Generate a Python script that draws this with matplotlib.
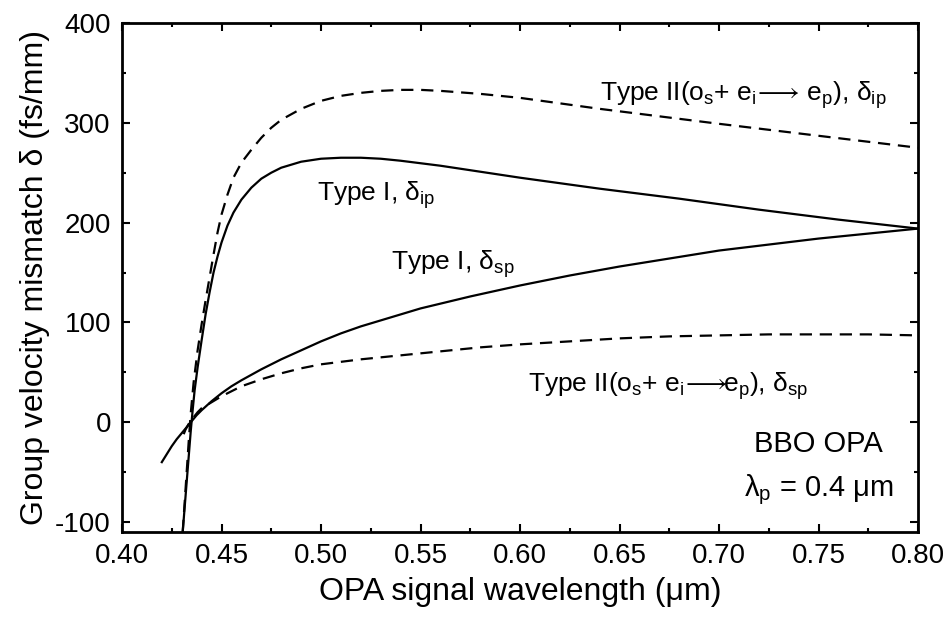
import numpy as np
import matplotlib
matplotlib.use('Agg')
import matplotlib.pyplot as plt
from matplotlib.ticker import MultipleLocator, FormatStrFormatter

plt.rcParams['font.family'] = ['Liberation Sans', 'DejaVu Sans']
plt.rcParams['mathtext.default'] = 'regular'
plt.rcParams['axes.unicode_minus'] = False

# Type I, delta_sp (solid, lower)
x_t1_sp = [0.420, 0.4225, 0.425, 0.4275, 0.430, 0.4325, 0.435, 0.4375, 0.440, 0.445,
           0.450, 0.455, 0.460, 0.470, 0.480, 0.490, 0.500, 0.510, 0.520, 0.535,
           0.550, 0.575, 0.600, 0.625, 0.650, 0.675, 0.700, 0.725, 0.750, 0.775, 0.800]
y_t1_sp = [-40, -32, -24, -17, -11, -5, 1, 7, 12, 21,
           29, 36, 42, 53, 63, 72, 81, 89, 96, 105,
           114, 126, 137, 147, 156, 164, 172, 178, 184, 189, 194]

# Type I, delta_ip (solid, upper)
x_t1_ip = [0.4305, 0.4315, 0.4325, 0.4335, 0.4345, 0.4355, 0.4365, 0.438, 0.440, 0.442,
           0.444, 0.446, 0.448, 0.450, 0.453, 0.456, 0.460, 0.465, 0.470, 0.475,
           0.480, 0.490, 0.500, 0.510, 0.520, 0.530, 0.540, 0.560, 0.580, 0.600,
           0.640, 0.680, 0.720, 0.760, 0.800]
y_t1_ip = [-110, -85, -60, -35, -10, 12, 32, 55, 82, 108,
           130, 150, 166, 180, 197, 210, 223, 235, 244, 250,
           255, 261, 264, 265, 265, 264, 262, 257, 251, 245,
           234, 224, 213, 203, 194]

# Type II, delta_ip (dashed, upper)
x_t2_ip = [0.4305, 0.4315, 0.4325, 0.4335, 0.4345, 0.436, 0.438, 0.440, 0.442, 0.444,
           0.446, 0.448, 0.450, 0.453, 0.456, 0.460, 0.465, 0.470, 0.475, 0.480,
           0.490, 0.500, 0.510, 0.520, 0.530, 0.540, 0.550, 0.560, 0.580, 0.600,
           0.640, 0.700, 0.750, 0.800]
y_t2_ip = [-110, -80, -50, -20, 8, 40, 72, 98, 122, 145,
           168, 190, 208, 228, 245, 260, 273, 285, 295, 303,
           314, 322, 327, 330, 332, 333, 333, 332, 329, 325,
           314, 299, 287, 275]

# Type II, delta_sp (dashed, lower)
x_t2_sp = [0.431, 0.432, 0.434, 0.436, 0.438, 0.440, 0.445, 0.450, 0.455, 0.460,
           0.470, 0.480, 0.490, 0.500, 0.520, 0.540, 0.560, 0.580, 0.600, 0.625,
           0.650, 0.675, 0.700, 0.725, 0.750, 0.775, 0.800]
y_t2_sp = [-12, -7, 0, 5, 10, 14, 20, 26, 31, 36,
           43, 49, 54, 58, 63, 67, 71, 75, 78, 81,
           84, 86, 87, 88, 88, 88, 87]

fig = plt.figure(figsize=(9.51, 6.19), dpi=100)
ax = fig.add_axes([122/951, 1-532/619, (918-122)/951, (532-23)/619])

lw = 1.6
ax.plot(x_t1_sp, y_t1_sp, 'k-', linewidth=lw)
ax.plot(x_t1_ip, y_t1_ip, 'k-', linewidth=lw)
ax.plot(x_t2_ip, y_t2_ip, 'k--', linewidth=lw, dashes=(5.5, 3.5))
ax.plot(x_t2_sp, y_t2_sp, 'k--', linewidth=lw, dashes=(5.5, 3.5))

ax.set_xlim(0.40, 0.80)
ax.set_ylim(-110, 400)
ax.xaxis.set_major_locator(MultipleLocator(0.05))
ax.xaxis.set_minor_locator(MultipleLocator(0.025))
ax.yaxis.set_major_locator(MultipleLocator(100))
ax.yaxis.set_minor_locator(MultipleLocator(50))
ax.xaxis.set_major_formatter(FormatStrFormatter('%.2f'))
ax.tick_params(which='both', direction='in', top=True, right=True, width=1.5)
ax.tick_params(which='major', length=6, labelsize=20, pad=8)
ax.tick_params(which='minor', length=3)
for s in ax.spines.values():
    s.set_linewidth(2)

ax.set_xlabel('OPA signal wavelength (μm)', fontsize=23, labelpad=6)
ax.set_ylabel('Group velocity mismatch δ (fs/mm)', fontsize=23, labelpad=4)

fs = 19
ax.text(0.640, 322, r'Type II(o$_s$+ e$_i\!\longrightarrow\!$ e$_p$), δ$_{ip}$',
        fontsize=fs, ha='left', va='baseline')
ax.text(0.498, 222, r'Type I, δ$_{ip}$', fontsize=fs, ha='left', va='baseline')
ax.text(0.535, 153, r'Type I, δ$_{sp}$', fontsize=fs, ha='left', va='baseline')
ax.text(0.604, 30, r'Type II(o$_s$+ e$_i\!\longrightarrow\!\!$e$_p$), δ$_{sp}$',
        fontsize=fs, ha='left', va='baseline')
ax.text(0.750, -30, 'BBO OPA', fontsize=21, ha='center', va='baseline')
ax.text(0.750, -74, r'λ$_p$ = 0.4 μm', fontsize=21, ha='center', va='baseline')

fig.savefig('out.png', dpi=100)
